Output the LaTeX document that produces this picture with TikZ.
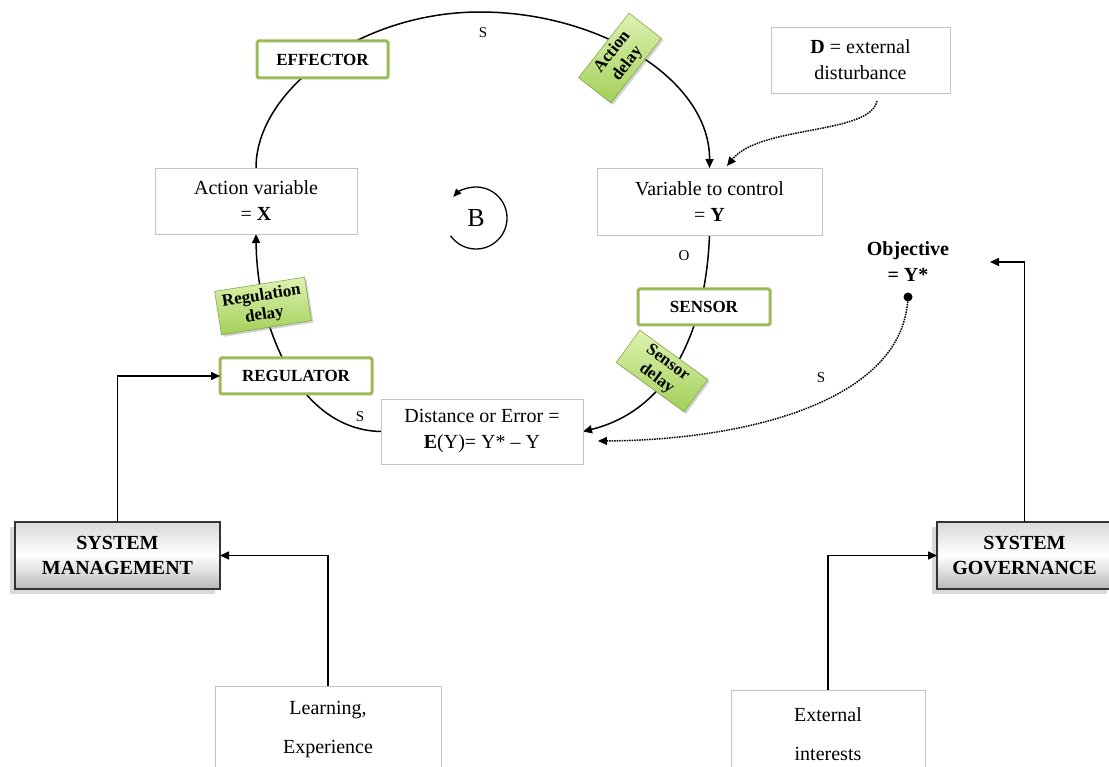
\documentclass[tikz,border=0pt]{standalone}
\usepackage{fontspec}
\setmainfont{Liberation Serif}
\usetikzlibrary{arrows.meta,shadows,calc}
\definecolor{greenborder}{HTML}{9BBB59}
\definecolor{graybox}{HTML}{C4C4C4}
\definecolor{delaylight}{HTML}{DDF2B0}
\definecolor{delaydark}{HTML}{A2D05A}
\pgfdeclarelayer{background}
\pgfsetlayers{background,main}
\begin{document}
\begin{tikzpicture}[x=1pt,y=-1pt,
  every node/.style={inner sep=0pt, outer sep=0pt},
  plainbox/.style={draw=graybox, line width=0.9pt, fill=white, align=center, font=\fontsize{20}{26}\selectfont},
  partbox/.style={draw=greenborder, line width=3pt, fill=white, rounded corners=1.5pt, font=\bfseries\fontsize{17}{20}\selectfont},
  delaybox/.style={draw=delaydark!75!black, line width=0.5pt, top color=delaylight, bottom color=delaydark, align=center, font=\bfseries\fontsize{17}{19}\selectfont, drop shadow={shadow xshift=2pt, shadow yshift=-2pt, opacity=0.35}},
  sysbox/.style={draw=black!80, line width=2pt, top color=gray!30, bottom color=gray!55, middle color=white, align=center, font=\bfseries\fontsize{20}{25}\selectfont, drop shadow={shadow xshift=-5pt, shadow yshift=-5pt, opacity=0.3}},
  link/.style={line width=1.5pt, -{Triangle[length=9pt,width=8pt]}},
  dotlink/.style={line width=1.5pt, densely dotted, -{Triangle[length=9pt,width=8pt]}},
  pol/.style={font=\fontsize{15}{15}\selectfont},
]
\useasboundingbox (0,0) rectangle (1109,767);

% boxes
\node[partbox, minimum width=131pt, minimum height=37pt] (effector) at (322.5,59.5) {EFFECTOR};
\node[plainbox, minimum width=202pt, minimum height=66pt] (actvar) at (256,201) {Action variable\\= \textbf{X}};
\node[plainbox, minimum width=225pt, minimum height=67pt] (varctl) at (709.5,201.5) {Variable to control\\= \textbf{Y}};
\node[plainbox, minimum width=179pt, minimum height=66pt] (dbox) at (860.5,60) {\textbf{D} = external\\disturbance};
\node[partbox, minimum width=132pt, minimum height=36pt] (sensor) at (704,307) {SENSOR};
\node[partbox, minimum width=152pt, minimum height=36pt] (regulator) at (296,376) {REGULATOR};
\node[plainbox, minimum width=202pt, minimum height=65pt] (distance) at (482,431.5) {Distance or Error =\\\textbf{E}(Y)= Y* – Y};
\node[sysbox, minimum width=205pt, minimum height=67pt] (sysman) at (117.5,555.5) {SYSTEM\\MANAGEMENT};
\node[sysbox, minimum width=175pt, minimum height=67pt] (sysgov) at (1024.5,555.5) {SYSTEM\\GOVERNANCE};
\node[plainbox, minimum width=226pt, minimum height=88pt, font=\fontsize{20}{39}\selectfont] (learn) at (328,730) {Learning,\\Experience};
\node[plainbox, minimum width=194pt, minimum height=88pt, font=\fontsize{20}{39}\selectfont] (ext) at (828,734) {External\\interests};

% delays
\node[delaybox, rotate=52, minimum width=82pt, minimum height=41pt] (actdelay) at (620,58) {Action\\delay};
\node[delaybox, rotate=-36, minimum width=84pt, minimum height=40pt] (sensdelay) at (662,371) {Sensor\\delay};
\node[delaybox, rotate=9, minimum width=91pt, minimum height=44pt] (regdelay) at (263,306) {Regulation\\delay};

% objective
\node[font=\bfseries\fontsize{20}{26}\selectfont, align=center] (objective) at (908,262) {Objective\\= Y*};
\node[circle, fill=black, minimum size=9pt] (objdot) at (908,297) {};

% loop symbol
\node[font=\fontsize{26}{26}\selectfont] (bnode) at (476,218) {B};
\draw[line width=1.3pt, -{Triangle[length=8pt,width=7pt]}] (bnode.center) ++(-215:31) arc[start angle=-215, end angle=-497, radius=31];

% polarity labels
\node[pol] (s1) at (483,33) {S};
\node[pol] (o1) at (684,256) {O};
\node[pol] (s2) at (360,417) {S};
\node[pol] (s3) at (821,378) {S};

% free ends
\coordinate (dstart) at (877,101);
\coordinate (dend) at (727,166);
\coordinate (objend) at (598,441);
\coordinate (objarr) at (990,262);

\begin{pgfonlayer}{background}
\draw[link] (actvar.north) .. controls (256,90) and (360,12) .. (480,12) .. controls (600,12) and (710,80) .. (varctl.north);
\draw[link] (varctl.south) .. controls (706,330) and (670,410) .. (distance.east);
\draw[link] (distance.west) .. controls (300,430) and (257,330) .. (actvar.south);
\draw[dotlink] (dstart) .. controls (870,135) and (760,125) .. (dend);
\draw[dotlink] (objdot) .. controls (900,400) and (750,440) .. (objend);
\end{pgfonlayer}

% management / governance
\draw[link] (sysman.north) |- (regulator.west);
\draw[link] (learn.north) |- (sysman.east);
\draw[link] (ext.north) |- (sysgov.west);
\draw[link] (sysgov.north) |- (objarr);
\end{tikzpicture}
\end{document}
